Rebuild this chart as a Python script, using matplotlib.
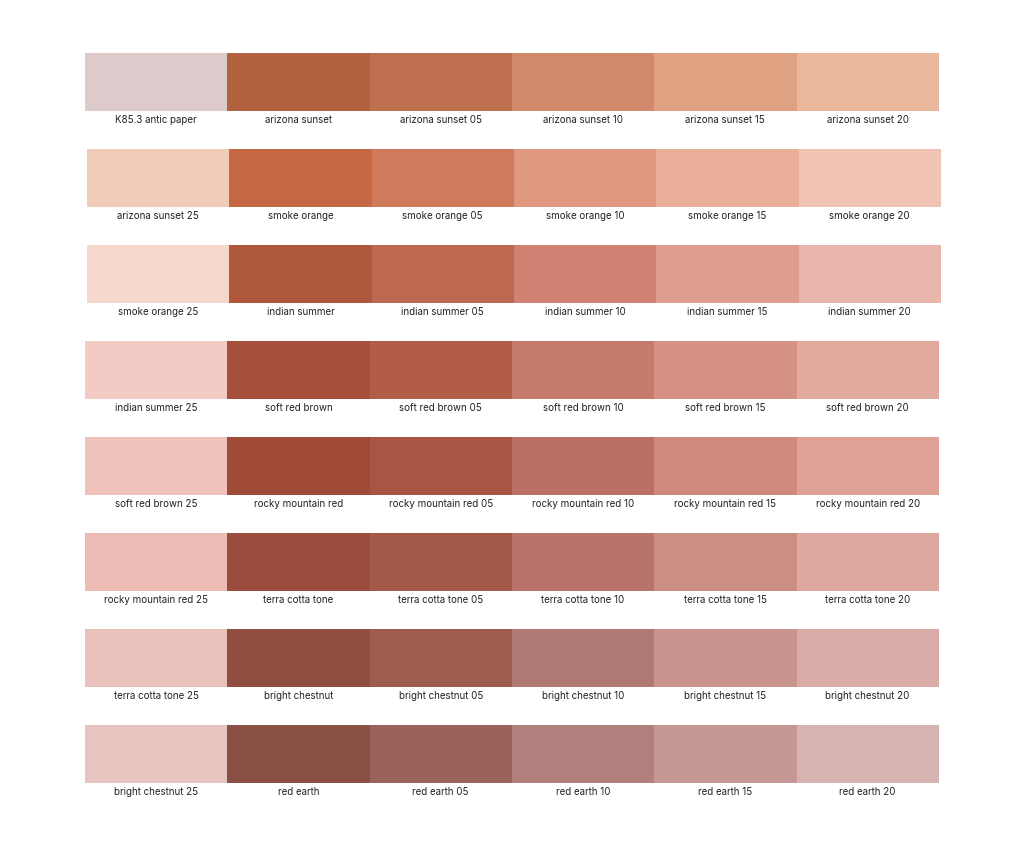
import matplotlib
matplotlib.use("Agg")
import matplotlib.pyplot as plt
from matplotlib.patches import Rectangle

labels = [
 ["K85.3 antic paper","arizona sunset","arizona sunset 05","arizona sunset 10","arizona sunset 15","arizona sunset 20"],
 ["arizona sunset 25","smoke orange","smoke orange 05","smoke orange 10","smoke orange 15","smoke orange 20"],
 ["smoke orange 25","indian summer","indian summer 05","indian summer 10","indian summer 15","indian summer 20"],
 ["indian summer 25","soft red brown","soft red brown 05","soft red brown 10","soft red brown 15","soft red brown 20"],
 ["soft red brown 25","rocky mountain red","rocky mountain red 05","rocky mountain red 10","rocky mountain red 15","rocky mountain red 20"],
 ["rocky mountain red 25","terra cotta tone","terra cotta tone 05","terra cotta tone 10","terra cotta tone 15","terra cotta tone 20"],
 ["terra cotta tone 25","bright chestnut","bright chestnut 05","bright chestnut 10","bright chestnut 15","bright chestnut 20"],
 ["bright chestnut 25","red earth","red earth 05","red earth 10","red earth 15","red earth 20"],
]
colors = [
 ["#dccbca","#b3623f","#bf704f","#d08a6b","#dea283","#e9b89c"],
 ["#f1cdb9","#c56843","#cf7a5a","#e09780","#e9ae98","#f1c3b4"],
 ["#f5d8cb","#b0583b","#bd6850","#d08373","#de9e8f","#e9b6ac"],
 ["#f1cbc4","#a6503b","#b25d47","#c67a6c","#d59284","#e2a99f"],
 ["#efc3bc","#a04b37","#a85544","#bb7065","#cf8a7d","#e0a297"],
 ["#edbdb5","#9a4d3d","#a45948","#b8746b","#cb8e83","#dca8a0"],
 ["#e8c1bc","#8f4e41","#9d5c50","#b17973","#c8948d","#d9aca7"],
 ["#e6c4bf","#8b5045","#9a625a","#b17f7c","#c59896","#d6b2b0"],
]
row_offsets = [0, 2, 2, 0, 0, 0, 0, 0]

fig = plt.figure(figsize=(10.24, 8.53), dpi=100)
ax = fig.add_axes([0, 0, 1, 1])
ax.set_xlim(0, 1024); ax.set_ylim(853, 0); ax.axis("off")
x0, w, h, top, step = 85, 142.3, 58, 54, 96
for r in range(len(labels)):
    for c in range(6):
        x = x0 + row_offsets[r] + c * w
        y = top + r * step
        ax.add_patch(Rectangle((x, y), w + 0.5, h, facecolor=colors[r][c], edgecolor="none"))
        ax.text(x + w / 2, y + h + 8, labels[r][c], ha="center", va="center",
                fontsize=7, family=["Inter", "DejaVu Sans"], color="#222222")
fig.savefig("out.png", dpi=100)
